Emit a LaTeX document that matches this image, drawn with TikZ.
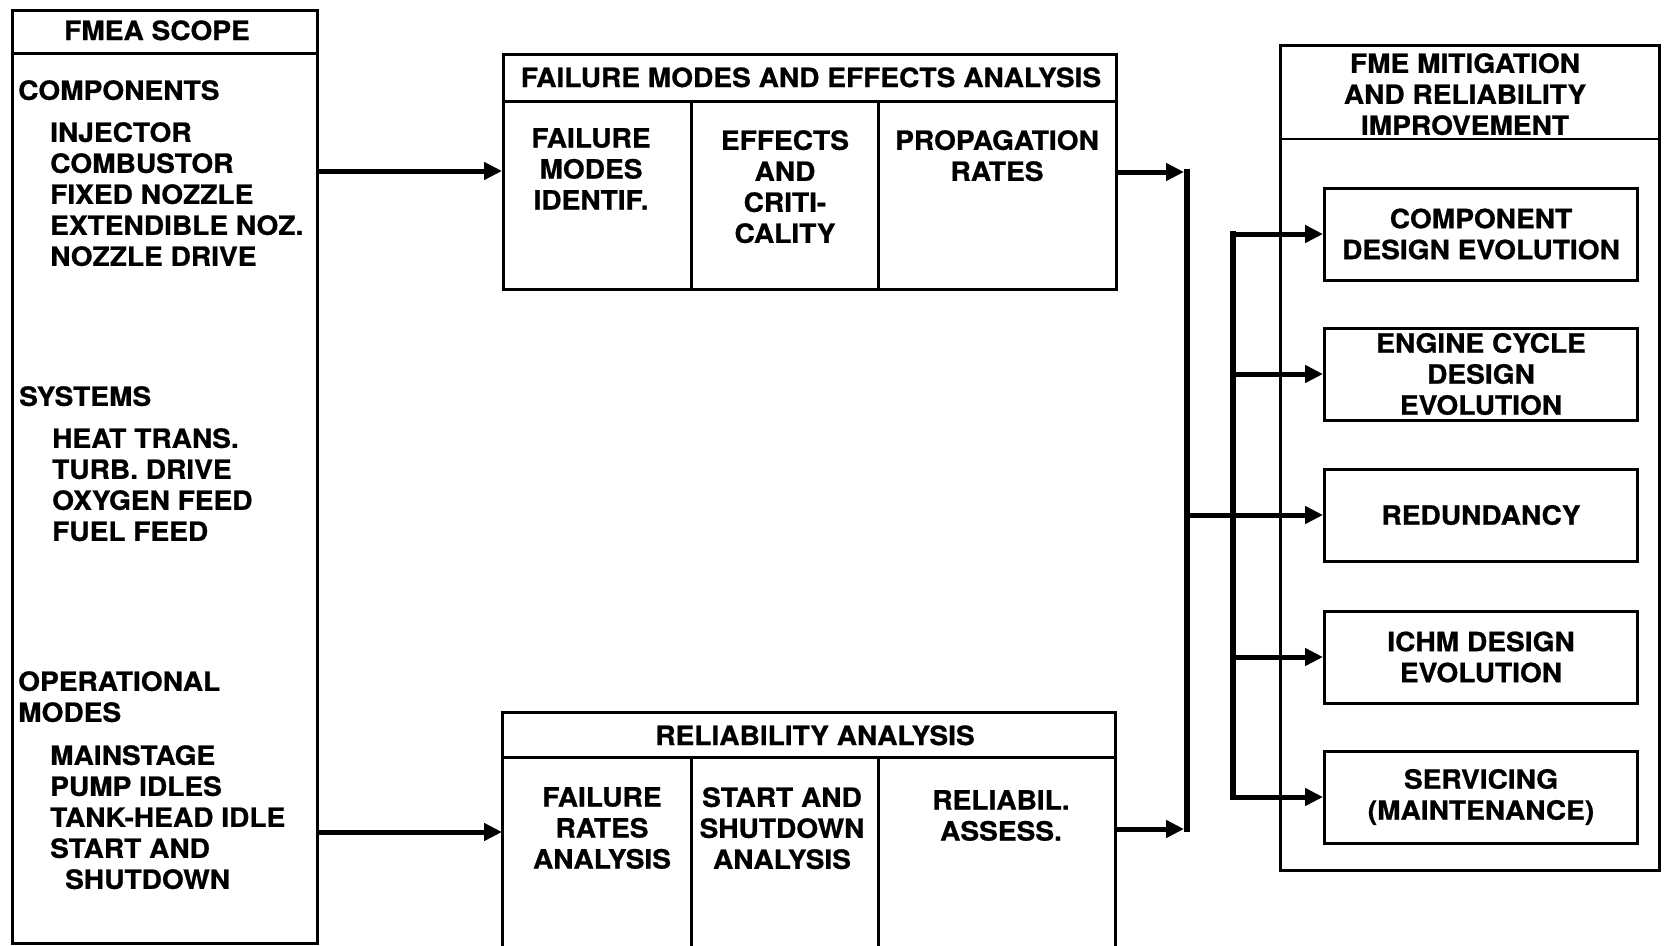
\documentclass[tikz,border=0pt]{standalone}
\usepackage{fontspec}
\newfontfamily\dfont[FakeStretch=1.06,FakeBold=0.8]{TeX Gyre Heros}
\usetikzlibrary{arrows.meta}
\tikzset{
  txt/.style={font=\dfont\bfseries\fontsize{26.5}{31}\selectfont, inner sep=0pt, text=black},
  boxline/.style={line width=3pt},
  box/.style={draw, line width=3pt, inner sep=0pt},
  flow/.style={line width=5pt, -{Triangle[length=18pt,width=17pt]}},
  bus/.style={line width=5.5pt, line cap=rect},
}
\begin{document}
\begin{tikzpicture}[x=1pt,y=-1pt]
\fill[white] (0,0) rectangle (1667,945);
\useasboundingbox (0,0) rectangle (1667,945);

% ---------- left box: FMEA scope ----------
\node[box, anchor=north west, minimum width=305pt, minimum height=933pt] (scope) at (11,9) {};
\coordinate (sh) at (0,53);
\draw[boxline] (scope.west |- sh) -- (scope.east |- sh);
\node[txt, anchor=base] (tscope) at (157,40) {FMEA SCOPE};
\node[txt, anchor=north west] (tcomp) at (18,80) {COMPONENTS};
\node[txt, anchor=north west, align=left] (tcompl) at (50,122)
  {INJECTOR\\COMBUSTOR\\FIXED NOZZLE\\EXTENDIBLE NOZ.\\NOZZLE DRIVE};
\node[txt, anchor=north west] (tsys) at (19,386) {SYSTEMS};
\node[txt, anchor=north west, align=left] (tsysl) at (52,428)
  {HEAT TRANS.\\TURB. DRIVE\\OXYGEN FEED\\FUEL FEED};
\node[txt, anchor=north west, align=left] (tops) at (18,671) {OPERATIONAL\\MODES};
\node[txt, anchor=north west, align=left] (topsl) at (50,745)
  {MAINSTAGE\\PUMP IDLES\\TANK-HEAD IDLE\\START AND\\\hspace*{15pt}SHUTDOWN};

% ---------- FMEA box ----------
\node[box, anchor=north west, minimum width=613pt, minimum height=235pt] (fmea) at (502,53) {};
\coordinate (fs) at (0,101);
\coordinate (d1) at (691,0);
\coordinate (d2) at (878,0);
\draw[boxline] (fmea.west |- fs) -- (fmea.east |- fs);
\draw[boxline] (d1 |- fs) -- (d1 |- fmea.south);
\draw[boxline] (d2 |- fs) -- (d2 |- fmea.south);
\node[txt, anchor=base] (tfmea) at (811,87) {FAILURE MODES AND EFFECTS ANALYSIS};
\node[txt, anchor=north, align=center] (c1) at (591,128) {FAILURE\\MODES\\IDENTIF.};
\node[txt, anchor=north, align=center] (c2) at (785,130) {EFFECTS\\AND\\CRITI-\\CALITY};
\node[txt, anchor=north, align=center] (c3) at (997,130) {PROPAGATION\\RATES};

% ---------- Reliability box (open at the bottom edge) ----------
\node[anchor=north west, minimum width=613pt, minimum height=240pt, inner sep=0pt, outer sep=0pt] (rel) at (502,712) {};
\draw[boxline] (rel.south west) -- (rel.north west) -- (rel.north east) -- (rel.south east);
\coordinate (rs) at (0,757);
\draw[boxline] (rel.west |- rs) -- (rel.east |- rs);
\draw[boxline] (d1 |- rs) -- (d1 |- rel.south);
\draw[boxline] (d2 |- rs) -- (d2 |- rel.south);
\node[txt, anchor=base] (trel) at (815,745) {RELIABILITY ANALYSIS};
\node[txt, anchor=north, align=center] (r1) at (602,787) {FAILURE\\RATES\\ANALYSIS};
\node[txt, anchor=north, align=center] (r2) at (782,787) {START AND\\SHUTDOWN\\ANALYSIS};
\node[txt, anchor=north, align=center] (r3) at (1001,790) {RELIABIL.\\ASSESS.};

% ---------- right box: mitigation ----------
\node[draw, line width=2.5pt, inner sep=0pt, anchor=north west, minimum width=379pt, minimum height=825pt] (mit) at (1279,44) {};
\coordinate (ms) at (0,139);
\draw[line width=2.5pt] (mit.west |- ms) -- (mit.east |- ms);
\node[txt, anchor=north, align=center] (tmit) at (1465,53) {FME MITIGATION\\AND RELIABILITY\\IMPROVEMENT};
\node[box, txt, align=center, minimum width=313pt, minimum height=92pt] (m1) at (1481,234) {COMPONENT\\DESIGN EVOLUTION};
\node[box, txt, align=center, minimum width=313pt, minimum height=92pt] (m2) at (1481,374) {ENGINE CYCLE\\DESIGN\\EVOLUTION};
\node[box, txt, align=center, minimum width=313pt, minimum height=92pt] (m3) at (1481,515) {REDUNDANCY};
\node[box, txt, align=center, minimum width=313pt, minimum height=92pt] (m4) at (1481,657) {ICHM DESIGN\\EVOLUTION};
\node[box, txt, align=center, minimum width=313pt, minimum height=92pt] (m5) at (1481,797) {SERVICING\\(MAINTENANCE)};

% ---------- connectors ----------
\coordinate (a1) at (0,171);
\coordinate (a2) at (0,832);
\draw[flow] (scope.east |- a1) -- (fmea.west |- a1);
\draw[flow] (scope.east |- a2) -- (rel.west |- a2);

\coordinate (trunkT) at (1187,172);
\coordinate (trunkB) at (1187,829);
\coordinate (tipT) at (1184,172);
\coordinate (tipB) at (1184,829);
\draw[bus] (trunkT) -- (trunkB);
\draw[flow] (fmea.east |- trunkT) -- (tipT);
\draw[flow] (rel.east |- trunkB) -- (tipB);
\draw[flow] (trunkT |- m3.west) -- (m3.west);

\coordinate (busx) at (1233,0);
\draw[bus] (busx |- m1.west) -- (busx |- m5.west);
\draw[flow] (busx |- m1.west) -- (m1.west);
\draw[flow] (busx |- m2.west) -- (m2.west);
\draw[flow] (busx |- m4.west) -- (m4.west);
\draw[flow] (busx |- m5.west) -- (m5.west);
\end{tikzpicture}
\end{document}
